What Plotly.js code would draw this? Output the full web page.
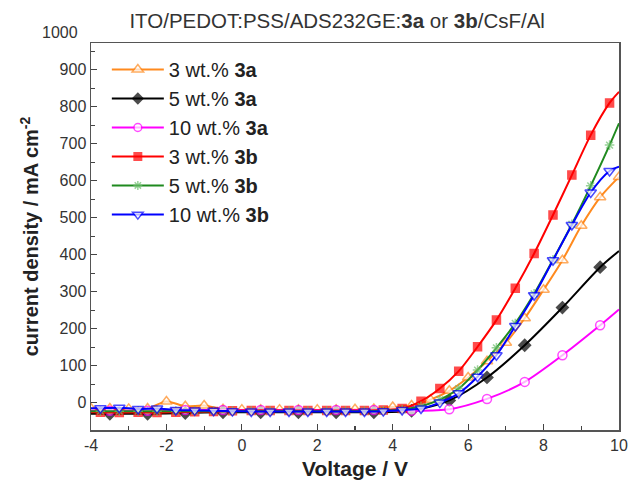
<!DOCTYPE html>
<html>
<head>
<meta charset="utf-8">
<script src="https://cdn.plot.ly/plotly-3.0.1.min.js"></script>
<style>html,body{margin:0;padding:0;background:#fff;}#chart{width:629px;height:486px;}</style>
</head>
<body>
<div id="chart"></div>
<script>
// ---- data ----
const seriesNames = ["3 wt.% <b>3a</b>", "5 wt.% <b>3a</b>", "10 wt.% <b>3a</b>", "3 wt.% <b>3b</b>", "5 wt.% <b>3b</b>", "10 wt.% <b>3b</b>"];

// 3 wt.% 3a (orange, markers every 0.5 V)
const vOrange = [-4,-3.5,-3,-2.5,-2,-1.5,-1,-0.5,0,0.5,1,1.5,2,2.5,3,3.5,4,4.5,5,5.5,6,6.5,7,7.5,8,8.5,9,9.5,10];
const jOrange = [-16,-16,-17,-16,3,-10,-8,-18,-19,-19,-19,-19,-19,-19,-18,-17,-12,-8,8,32,68,112,162,228,305,385,478,555,610];

// 5 wt.% 3a (black) and 10 wt.% 3a (magenta), markers every 1 V
const vOneVolt = [-4,-3.5,-2.5,-1.5,-0.5,0.5,1.5,2.5,3.5,4.5,5.5,6.5,7.5,8.5,9.5,10];
const jBlack   = [-30,-30,-30,-28,-26,-26,-26,-26,-26,-22,6,68,155,257,366,410];
const jMagenta = [-22,-22,-22,-20,-20,-20,-20,-20,-20,-22,-18,10,56,128,209,252];

// 3b series, markers every 0.5 V on the quarter volts
const vQuarter = [-4,-3.75,-3.25,-2.75,-2.25,-1.75,-1.25,-0.75,-0.25,0.25,0.75,1.25,1.75,2.25,2.75,3.25,3.75,4.25,4.75,5.25,5.75,6.25,6.75,7.25,7.75,8.25,8.75,9.25,9.75,10];
const jRed   = [-26,-26,-27,-26,-27,-26,-25,-24,-22,-21,-21,-21,-21,-21,-21,-21,-20,-16,4,38,85,151,223,309,403,507,615,723,810,840];
const jGreen = [-23,-23,-23,-23,-23,-23,-23,-23,-23,-23,-23,-23,-23,-23,-23,-23,-22,-19,-10,8,38,88,148,214,294,386,482,586,696,755];
const jBlue  = [-15,-15,-14,-17,-16,-20,-21,-22,-23,-24,-24,-24,-24,-24,-24,-24,-23,-20,-16,0,25,70,128,207,290,385,480,568,626,638];

// axis ticks
const xTicks = [-4,-2,0,2,4,6,8,10];
const yTicks = [0,100,200,300,400,500,600,700,800,900];
const yTopLabel = 1000;
const yRange = [-74, 972];

const FONT = "'Liberation Sans', Arial, sans-serif";

function sizes(xs, s, skipEnds) {
  return xs.map(v => (skipEnds && (v === -4 || v === 10)) ? 0 : s);
}

const traces = [
  {x: vOrange, y: jOrange, name: seriesNames[0], color: '#ff8a1e', sym: 'triangle-up', fill: '#ffffff', size: 10, skip: false},
  {x: vOneVolt, y: jBlack, name: seriesNames[1], color: '#000000', sym: 'diamond', fill: '#000000', size: 9, skip: true},
  {x: vOneVolt, y: jMagenta, name: seriesNames[2], color: '#ff00ff', sym: 'circle', fill: '#ffffff', size: 9, skip: true},
  {x: vQuarter, y: jRed, name: seriesNames[3], color: '#ff0000', sym: 'square', fill: '#ff0000', size: 8, skip: true},
  {x: vQuarter, y: jGreen, name: seriesNames[4], color: '#1f8a1f', sym: 'asterisk-open', fill: '#6cbf6c', size: 8, skip: true},
  {x: vQuarter, y: jBlue, name: seriesNames[5], color: '#0000ff', sym: 'triangle-down', fill: '#ffffff', size: 10, skip: true}
].map(t => ({
  type: 'scatter', mode: 'lines+markers', x: t.x, y: t.y, name: t.name,
  line: {color: t.color, width: 2, shape: 'spline', smoothing: 0.8},
  marker: {symbol: t.sym, size: sizes(t.x, t.size, t.skip), color: t.fill,
           line: {color: t.sym === 'asterisk-open' ? '#6cbf6c' : t.color, width: 1.5}}
}));

const axisCommon = {
  showline: true, mirror: true, linecolor: '#555', linewidth: 1.5,
  ticks: 'inside', ticklen: 6, tickwidth: 1.2, tickcolor: '#444',
  showgrid: false, zeroline: false,
  tickfont: {family: FONT, size: 16, color: '#333'}
};

// paper position of the "1000" label that sits above the frame
const topLabelPaperY = (yTopLabel - yRange[0]) / (yRange[1] - yRange[0]);

const layout = {
  width: 629, height: 486,
  margin: {l: 91, r: 10, t: 43, b: 56},
  paper_bgcolor: '#fff', plot_bgcolor: '#fff',
  font: {family: FONT, color: '#222'},
  title: {text: 'ITO/PEDOT:PSS/ADS232GE:<b>3a</b> or <b>3b</b>/CsF/Al',
          font: {family: FONT, size: 20.5, color: '#333'},
          x: 0.536, xref: 'container', xanchor: 'center', y: 0.957, yref: 'container', yanchor: 'middle'},
  xaxis: Object.assign({}, axisCommon, {
    range: [-4, 10], tickvals: xTicks, ticktext: xTicks.map(String),
    minor: {dtick: 1, ticks: 'inside', ticklen: 4, tickcolor: '#444'},
    title: {text: '<b>Voltage / V</b>', font: {family: FONT, size: 21, color: '#222'}, standoff: 8}
  }),
  yaxis: Object.assign({}, axisCommon, {
    range: yRange, tickvals: yTicks, ticktext: yTicks.map(String),
    minor: {tickvals: [50,150,250,350,450,550,650,750,850,950], ticks: 'inside', ticklen: 4, tickcolor: '#444'},
    title: {text: '<b>current density / mA cm<sup>-2</sup></b>', font: {family: FONT, size: 20, color: '#222'}, standoff: 15}
  }),
  legend: {x: 0.03, y: 0.982, xanchor: 'left', yanchor: 'top', bgcolor: 'rgba(0,0,0,0)',
           font: {family: FONT, size: 20, color: '#222'}, itemwidth: 52, tracegroupgap: 0},
  annotations: [{text: String(yTopLabel), xref: 'paper', x: 0, xanchor: 'right', xshift: -11,
                 yref: 'paper', y: topLabelPaperY, yanchor: 'middle', showarrow: false,
                 font: {family: FONT, size: 16, color: '#333'}}],
  showlegend: true
};

Plotly.newPlot('chart', traces, layout, {staticPlot: true, displayModeBar: false});
</script>
</body>
</html>
